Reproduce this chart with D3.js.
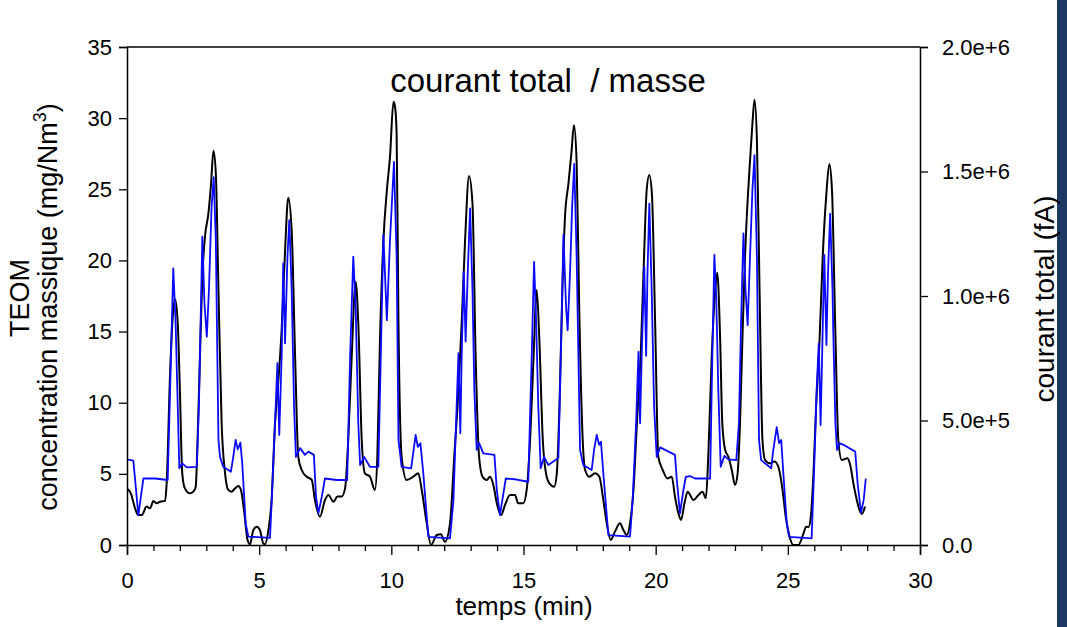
<!DOCTYPE html>
<html>
<head>
  <meta charset="utf-8">
  <script src="https://d3js.org/d3.v7.min.js"></script>
  <style>
    body { margin: 0; background: #fff; }
    text { font-family: "Liberation Sans", Arial, sans-serif; fill: #000; }
  </style>
</head>
<body>
<div id="chart"></div>
<script>

// TEOM mass concentration (mg/Nm3), black curve
var massTime = [0.0, 0.05, 0.15, 0.3, 0.43, 0.56, 0.74, 0.87, 1.0, 1.12, 1.25, 1.44, 1.5, 1.63, 1.73, 1.82, 1.92, 2.0, 2.09, 2.19,
  2.38, 2.51, 2.6, 2.67, 2.76, 2.85, 2.95, 3.08, 3.18, 3.27, 3.36, 3.46, 3.58, 3.71, 3.83, 3.95, 4.09, 4.21, 4.31, 4.44,
  4.56, 4.65, 4.78, 4.91, 5.03, 5.16, 5.22, 5.35, 5.47, 5.6, 5.72, 5.85, 5.98, 6.1, 6.23, 6.36, 6.48, 6.61, 6.8, 6.99,
  7.11, 7.3, 7.49, 7.62, 7.81, 7.96, 8.12, 8.25, 8.37, 8.5, 8.65, 8.75, 8.88, 9.0, 9.19, 9.38, 9.47, 9.57, 9.7, 9.83,
  9.95, 10.08, 10.14, 10.2, 10.27, 10.39, 10.58, 10.83, 11.02, 11.15, 11.34, 11.5, 11.72, 11.87, 12.03, 12.22, 12.38, 12.54, 12.66, 12.79,
  12.94, 13.07, 13.19, 13.32, 13.45, 13.61, 13.73, 13.86, 13.99, 14.15, 14.3, 14.49, 14.68, 14.8, 14.99, 15.12, 15.25, 15.38, 15.5, 15.6,
  15.73, 15.85, 15.98, 16.16, 16.26, 16.36, 16.47, 16.57, 16.7, 16.81, 16.91, 17.01, 17.11, 17.24, 17.33, 17.49, 17.71, 17.87, 18.02, 18.17,
  18.3, 18.46, 18.65, 18.78, 18.91, 19.03, 19.16, 19.29, 19.44, 19.56, 19.66, 19.76, 19.86, 19.98, 20.1, 20.27, 20.44, 20.61, 20.73, 20.86,
  20.96, 21.09, 21.21, 21.43, 21.62, 21.77, 21.9, 21.99, 22.12, 22.25, 22.33, 22.44, 22.52, 22.63, 22.75, 22.88, 23.0, 23.1, 23.19, 23.28,
  23.38, 23.48, 23.58, 23.66, 23.74, 23.83, 23.93, 24.04, 24.14, 24.33, 24.49, 24.64, 24.8, 24.92, 25.05, 25.21, 25.4, 25.59, 25.69, 25.78,
  25.87, 25.97, 26.07, 26.2, 26.32, 26.45, 26.57, 26.67, 26.79, 26.91, 27.04, 27.25, 27.36, 27.48, 27.61, 27.71, 27.8, 27.92]
var massValue = [3.9, 3.87, 3.6, 2.6, 2.1, 2.1, 2.7, 2.58, 3.1, 2.93, 3.04, 3.1, 4.33, 12.07, 16.05, 17.27, 15.58, 10.9, 5.04, 3.98,
  3.63, 3.75, 4.1, 7.38, 13.23, 18.86, 21.67, 23.3, 25.4, 27.7, 26.1, 17.9, 8.55, 5.04, 3.87, 3.75, 3.98, 4.15, 3.87, 2.23,
  0.35, 0.05, 1.05, 1.29, 1.05, 0.1, 0.05, 1.05, 3.16, 8.55, 11.36, 15.1, 20.7, 24.4, 22.1, 13.2, 6.2, 5.27, 4.8, 4.57,
  3.16, 1.99, 3.16, 3.51, 3.04, 3.4, 3.4, 3.98, 7.38, 13.2, 18.5, 15.58, 7.38, 5.04, 4.8, 3.87, 6.2, 14.4, 21.4, 24.9,
  27.3, 31.15, 30.8, 28.9, 15.6, 6.2, 4.57, 4.8, 5.04, 3.87, 1.52, 0.0, 0.7, 0.75, 0.23, 1.52, 6.2, 10.9, 15.58, 21.43,
  25.93, 24.0, 13.2, 6.2, 4.8, 4.57, 4.8, 4.22, 2.93, 2.1, 2.81, 3.51, 3.51, 2.93, 2.93, 3.87, 7.38, 13.2, 17.92, 14.4,
  7.38, 5.04, 4.33, 4.1, 5.04, 9.72, 17.9, 23.07, 25.4, 27.5, 29.5, 26.9, 16.4, 7.38, 5.27, 4.8, 5.04, 4.8, 3.16, 1.29,
  0.35, 0.94, 1.52, 1.05, 0.7, 1.52, 3.87, 8.55, 13.7, 20.26, 24.95, 26.0, 24.6, 15.58, 6.2, 5.27, 4.68, 4.8, 3.4, 2.23,
  1.76, 2.93, 3.75, 3.16, 3.51, 3.75, 3.28, 6.2, 13.2, 17.9, 19.14, 14.4, 8.55, 6.68, 6.2, 5.27, 4.22, 5.04, 8.55, 14.4,
  20.26, 24.25, 27.3, 29.6, 31.3, 28.5, 17.9, 7.38, 5.97, 5.74, 5.86, 5.5, 3.87, 1.99, 0.7, 0.0, 0.0, 0.8, 1.29, 1.25,
  1.99, 5.04, 9.72, 14.4, 20.26, 24.48, 26.78, 24.95, 15.58, 7.38, 5.97, 6.09, 5.62, 4.33, 3.16, 2.46, 2.18, 2.7]

// total current (fA), blue curve
var currTime = [0.0, 0.24, 0.43, 0.62, 1.06, 1.54, 1.63, 1.75, 1.84, 1.92, 1.98, 2.09, 2.26, 2.64, 2.72, 2.85, 2.93, 3.02, 3.1, 3.2,
  3.28, 3.36, 3.46, 3.52, 3.64, 3.93, 4.02, 4.11, 4.19, 4.29, 4.36, 4.49, 4.59, 5.41, 5.47, 5.6, 5.69, 5.76, 5.85, 5.91,
  5.98, 6.07, 6.14, 6.23, 6.32, 6.39, 6.55, 6.73, 6.86, 7.07, 7.15, 7.24, 7.37, 7.49, 7.93, 8.33, 8.44, 8.56, 8.65, 8.75,
  8.82, 8.97, 9.19, 9.51, 9.6, 9.7, 9.83, 9.95, 10.1, 10.2, 10.27, 10.39, 10.75, 10.92, 11.0, 11.1, 11.21, 11.4, 12.22, 12.35,
  12.47, 12.54, 12.61, 12.66, 12.74, 12.81, 12.89, 12.98, 13.07, 13.14, 13.23, 13.32, 13.48, 13.9, 13.99, 14.11, 14.2, 14.33, 14.74, 15.18,
  15.31, 15.4, 15.48, 15.56, 15.65, 15.78, 15.94, 16.32, 16.44, 16.51, 16.61, 16.67, 16.76, 16.84, 16.92, 17.01, 17.14, 17.26, 17.58, 17.67,
  17.77, 17.86, 17.93, 18.02, 18.21, 19.03, 19.13, 19.26, 19.35, 19.41, 19.47, 19.57, 19.64, 19.69, 19.76, 19.85, 19.94, 20.04, 20.17, 20.73,
  20.8, 20.92, 21.05, 21.14, 21.3, 21.49, 22.06, 22.12, 22.22, 22.29, 22.37, 22.46, 22.6, 22.75, 23.05, 23.15, 23.23, 23.32, 23.4, 23.48,
  23.57, 23.66, 23.74, 23.83, 23.91, 23.99, 24.14, 24.37, 24.45, 24.58, 24.67, 24.75, 24.83, 24.96, 25.05, 25.9, 25.99, 26.09, 26.17, 26.24,
  26.31, 26.38, 26.46, 26.52, 26.6, 26.69, 26.72, 26.8, 26.86, 26.95, 27.17, 27.55, 27.64, 27.77, 27.87, 27.95]
var currValue = [344000, 339000, 120000, 267000, 267000, 261000, 623000, 1111000, 890000, 555000, 308000, 328000, 312000, 314000, 555000, 1238000, 970000, 837000, 1024000, 1359000,
  1477000, 1225000, 422000, 354000, 314000, 294000, 354000, 422000, 384000, 411000, 328000, 87000, 34000, 29000, 167000, 489000, 730000, 442000, 756000, 1131000,
  810000, 1158000, 1305000, 1024000, 555000, 354000, 389000, 362000, 375000, 362000, 194000, 127000, 194000, 267000, 261000, 261000, 754000, 1158000, 957000, 489000,
  321000, 354000, 314000, 314000, 754000, 1246000, 903000, 1225000, 1539000, 1160000, 422000, 314000, 308000, 442000, 394000, 409000, 288000, 33000, 27000, 181000,
  555000, 770000, 449000, 754000, 1097000, 817000, 1091000, 1352000, 1023000, 623000, 382000, 409000, 368000, 362000, 221000, 120000, 181000, 267000, 263000, 254000,
  754000, 1137000, 890000, 555000, 308000, 354000, 321000, 349000, 891000, 1246000, 957000, 863000, 1091000, 1359000, 1531000, 1160000, 382000, 321000, 301000, 382000,
  442000, 402000, 415000, 288000, 40000, 34000, 181000, 489000, 776000, 489000, 754000, 1118000, 760000, 1091000, 1371000, 1023000, 555000, 354000, 392000, 362000,
  261000, 127000, 221000, 274000, 277000, 267000, 267000, 623000, 1165000, 1000000, 623000, 314000, 358000, 344000, 341000, 489000, 890000, 1251000, 1023000, 883000,
  1158000, 1426000, 1566000, 1158000, 422000, 341000, 328000, 308000, 382000, 473000, 409000, 422000, 288000, 87000, 33000, 27000, 288000, 623000, 810000, 482000,
  823000, 1165000, 803000, 1091000, 1331000, 1023000, 850000, 489000, 382000, 409000, 399000, 375000, 247000, 130000, 181000, 267000]

var xTicks = [0, 5, 10, 15, 20, 25, 30]
var yLeftTicks = [0, 5, 10, 15, 20, 25, 30, 35]
var yRightTicks = [0, 500000, 1000000, 1500000, 2000000]
var yRightLabels = ["0.0", "5.0e+5", "1.0e+6", "1.5e+6", "2.0e+6"]

var W = 1067, H = 627
var margin = {top: 47, right: 147, bottom: 82, left: 127}
var width = W - margin.left - margin.right,
    height = H - margin.top - margin.bottom

var svg = d3.select("#chart").append("svg")
  .attr("width", W).attr("height", H)

// dark bar on the right edge
svg.append("rect").attr("x", 1057).attr("y", 0).attr("width", 10).attr("height", H)
  .attr("fill", "#1f3864")

var g = svg.append("g")
  .attr("transform", "translate(" + margin.left + "," + margin.top + ")")

var x = d3.scaleLinear().domain([0, 30]).range([0, width])
var yL = d3.scaleLinear().domain([0, 35]).range([height, 0])
var yR = d3.scaleLinear().domain([0, 2000000]).range([height, 0])

// clip curves to plot area
g.append("clipPath").attr("id", "clip").append("rect")
  .attr("x", 0).attr("y", 0).attr("width", width).attr("height", height)

var massLine = d3.line()
  .x(function(d, i) { return x(massTime[i]) })
  .y(function(d) { return yL(d) })
  .curve(d3.curveMonotoneX)

var currLine = d3.line()
  .x(function(d, i) { return x(currTime[i]) })
  .y(function(d) { return yR(d) })

g.append("path").datum(massValue)
  .attr("clip-path", "url(#clip)")
  .attr("d", massLine)
  .attr("fill", "none").attr("stroke", "#000").attr("stroke-width", 2)

g.append("path").datum(currValue)
  .attr("clip-path", "url(#clip)")
  .attr("d", currLine)
  .attr("fill", "none").attr("stroke", "#0a0aff").attr("stroke-width", 1.8)
  .attr("stroke-linejoin", "round")

// axes
g.append("g").attr("transform", "translate(0," + height + ")")
  .call(d3.axisBottom(x).tickValues(xTicks).tickSize(10).tickPadding(17).tickFormat(d3.format("d")))
g.append("g").attr("transform", "translate(0," + height + ")")
  .call(d3.axisBottom(x).tickValues(d3.range(0, 31).filter(function(d) { return d % 5 })).tickSize(6).tickFormat(""))
  .select(".domain").remove()

g.append("g")
  .call(d3.axisLeft(yL).tickValues(yLeftTicks).tickSize(8).tickPadding(7).tickFormat(d3.format("d")))

g.append("g").attr("transform", "translate(" + width + ",0)")
  .call(d3.axisRight(yR).tickValues(yRightTicks).tickSize(8).tickPadding(14)
    .tickFormat(function(d, i) { return yRightLabels[i] }))

// top frame
g.append("line").attr("x1", 0).attr("x2", width).attr("y1", 0).attr("y2", 0)
  .attr("stroke", "#000").attr("stroke-width", 1.5)

g.selectAll(".domain").attr("stroke-width", 1.5)
g.selectAll(".tick line").attr("stroke-width", 1.3)
g.selectAll(".tick text").style("font-size", "22px").style("font-family", "'Liberation Sans', Arial, sans-serif")

// titles
svg.append("text").attr("x", 548).attr("y", 92).attr("text-anchor", "middle")
  .style("font-size", "33px").style("white-space", "pre").text("courant total  / masse")

svg.append("text").attr("x", 524).attr("y", 615).attr("text-anchor", "middle")
  .style("font-size", "26px").text("temps (min)")

svg.append("text").attr("transform", "translate(29,298) rotate(-90)")
  .attr("text-anchor", "middle").style("font-size", "27px").text("TEOM")

var lt = svg.append("text").attr("transform", "translate(57,307) rotate(-90)")
  .attr("text-anchor", "middle").style("font-size", "27px")
lt.append("tspan").text("concentration massique (mg/Nm")
lt.append("tspan").attr("dy", -11).style("font-size", "18px").text("3")
lt.append("tspan").attr("dy", 11).text(")")

svg.append("text").attr("transform", "translate(1054,299) rotate(-90)")
  .attr("text-anchor", "middle").style("font-size", "28px").text("courant total (fA)")

</script>
</body>
</html>
